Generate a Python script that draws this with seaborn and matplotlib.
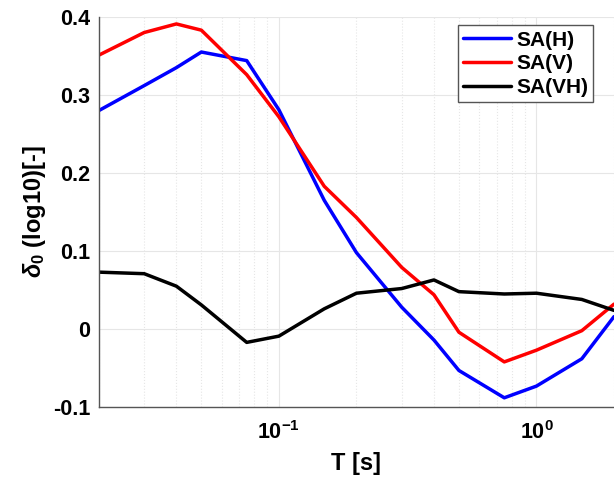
import numpy as np
import pandas as pd
import seaborn as sns
import matplotlib.pyplot as plt
from matplotlib.ticker import LogLocator, NullFormatter, FixedLocator

# Periodos (s)
periods = [0.02, 0.03, 0.04, 0.05, 0.075, 0.1, 0.15, 0.2, 0.3, 0.4, 0.5, 0.75, 1.0, 1.5, 2.0]
# Valores de delta_0 por componente
sa_h = [0.280, 0.312, 0.335, 0.355, 0.344, 0.281, 0.165, 0.098, 0.028, -0.014, -0.053, -0.088, -0.073, -0.038, 0.016]
sa_v = [0.351, 0.380, 0.391, 0.383, 0.326, 0.272, 0.183, 0.143, 0.079, 0.044, -0.004, -0.042, -0.027, -0.002, 0.032]
sa_vh = [0.073, 0.071, 0.055, 0.031, -0.017, -0.009, 0.026, 0.046, 0.052, 0.063, 0.048, 0.045, 0.046, 0.038, 0.024]
series_names = ['SA(H)', 'SA(V)', 'SA(VH)']
colors = ['#0000ff', '#ff0000', '#000000']

df = pd.DataFrame({'T': periods * 3,
                   'delta': sa_h + sa_v + sa_vh,
                   'serie': [n for n in series_names for _ in periods]})

sns.set_style('white')
plt.rcParams['font.family'] = ['Liberation Sans', 'DejaVu Sans']
plt.rcParams['text.color'] = 'black'
plt.rcParams['axes.labelcolor'] = 'black'
plt.rcParams['xtick.color'] = '#555555'
plt.rcParams['ytick.color'] = '#555555'
plt.rcParams['xtick.labelcolor'] = 'black'
plt.rcParams['ytick.labelcolor'] = 'black'
plt.rcParams['mathtext.fontset'] = 'custom'
plt.rcParams['mathtext.rm'] = 'Liberation Sans:bold'
plt.rcParams['mathtext.it'] = 'Liberation Sans:italic:bold'
plt.rcParams['mathtext.bf'] = 'Liberation Sans:bold'

fig = plt.figure(figsize=(6.14, 4.83), dpi=100)
ax = fig.add_axes([0.161, 0.157, 0.839, 0.808])

sns.lineplot(data=df, x='T', y='delta', hue='serie', palette=colors, linewidth=2.5, ax=ax)

ax.set_xscale('log')
ax.set_xlim(0.02, 2)
ax.set_ylim(-0.1, 0.4)
ax.set_yticks([-0.1, 0, 0.1, 0.2, 0.3, 0.4])
ax.set_yticklabels(['-0.1', '0', '0.1', '0.2', '0.3', '0.4'])
ax.xaxis.set_major_locator(FixedLocator([0.1, 1.0]))
ax.set_xticklabels([r'$\mathbf{10^{-1}}$', r'$\mathbf{10^{0}}$'])
ax.xaxis.set_minor_locator(LogLocator(base=10, subs=np.arange(2, 10)))
ax.xaxis.set_minor_formatter(NullFormatter())

# Grade
ax.grid(True, which='major', color='#e6e6e6', linewidth=0.8)
ax.grid(True, which='minor', axis='x', color='#e6e6e6', linestyle=':', linewidth=0.8)

ax.tick_params(axis='both', which='both', direction='in', labelsize=15.5)
ax.tick_params(axis='x', which='major', length=5, pad=10)
ax.tick_params(axis='x', which='minor', length=3)
ax.tick_params(axis='y', which='major', length=5, pad=6)
for lab in ax.get_yticklabels():
    lab.set_fontweight('bold')

for s in ['top', 'right']:
    ax.spines[s].set_visible(False)
for s in ['left', 'bottom']:
    ax.spines[s].set_color('#555555')
    ax.spines[s].set_linewidth(1.0)

ax.set_xlabel('T [s]', fontsize=17, fontweight='bold', labelpad=6)
ax.set_ylabel(r'$\delta_0$ (log10)[-]', fontsize=17, fontweight='bold', labelpad=4)

leg = ax.legend(loc='upper right', bbox_to_anchor=(0.96, 0.978),
                prop={'weight': 'bold', 'size': 15}, fancybox=False, framealpha=1,
                edgecolor='#555555', handlelength=2.3, handletextpad=0.25,
                borderpad=0.25, labelspacing=0.22, borderaxespad=0)
leg.get_frame().set_linewidth(1.0)

plt.savefig('out.png', dpi=100)
